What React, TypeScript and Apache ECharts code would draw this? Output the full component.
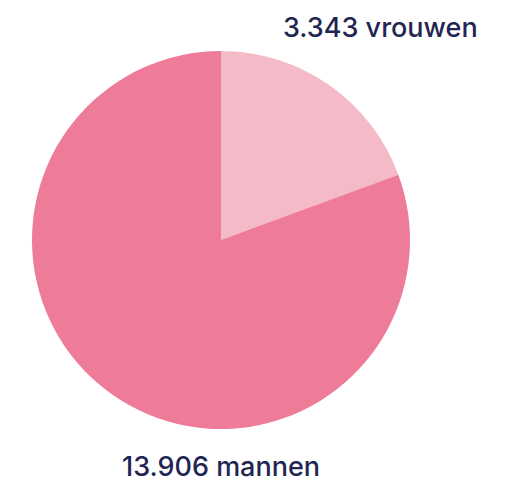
import React, { useEffect, useRef } from "react";
import * as echarts from "echarts";

const categories = ["vrouwen", "mannen"];
const values = [3343, 13906];
const colors = ["#f5bac7", "#ee7b98"];

function fmt(n: number): string {
  return String(n).replace(/\B(?=(\d{3})+(?!\d))/g, ".");
}

export default function App() {
  const ref = useRef<HTMLDivElement>(null);
  useEffect(() => {
    if (!ref.current) return;
    const chart = echarts.init(ref.current, undefined, { renderer: "svg" });
    chart.setOption({
      animation: false,
      backgroundColor: "#ffffff",
      series: [
        {
          type: "pie",
          center: [221, 240],
          radius: [0, 189],
          startAngle: 90,
          clockwise: true,
          label: { show: false },
          labelLine: { show: false },
          emphasis: { disabled: true },
          itemStyle: { borderWidth: 0 },
          data: categories.map((c, i) => ({
            name: c,
            value: values[i],
            itemStyle: { color: colors[i] },
          })),
        },
      ],
      graphic: [
        {
          type: "text",
          x: 283,
          y: 27,
          style: {
            text: `${fmt(values[0])} ${categories[0]}`,
            font: "500 27px Inter",
            lineHeight: 24,
            fill: "#1f2654",
            textVerticalAlign: "middle",
          },
        },
        {
          type: "text",
          x: 122,
          y: 466,
          style: {
            text: `${fmt(values[1])} ${categories[1]}`,
            font: "500 27px Inter",
            lineHeight: 24,
            fill: "#1f2654",
            textVerticalAlign: "middle",
          },
        },
      ],
    });
    return () => chart.dispose();
  }, []);
  return (
    <div
      ref={ref}
      style={{ position: "fixed", left: 0, top: 0, width: 512, height: 481 }}
    />
  );
}
